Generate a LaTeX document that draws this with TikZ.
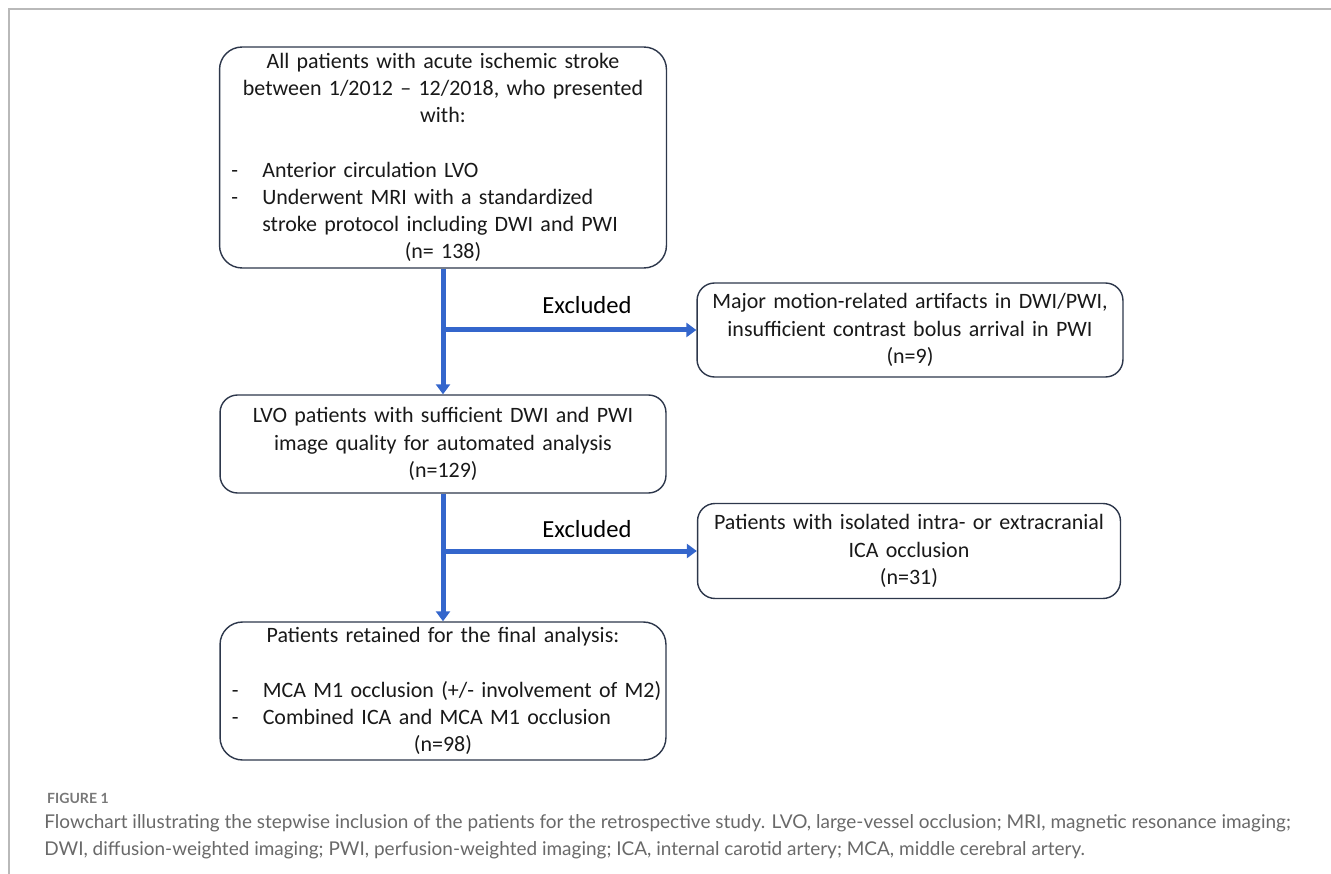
\documentclass[tikz,border=0pt]{standalone}
\usepackage{fontspec}
\setmainfont{Carlito}
\newfontfamily\capfont{Lato}
\usetikzlibrary{arrows.meta}
\definecolor{flowblue}{RGB}{52,102,204}
\definecolor{boxline}{RGB}{45,55,75}
\definecolor{capgray}{RGB}{105,105,105}
\newcommand{\listline}[2]{\makebox[\linewidth][l]{\hspace{1pt}\makebox[0.62cm][l]{#1}#2}}

\begin{document}
\begin{tikzpicture}[x=0.02cm, y=-0.02cm,
  box/.style={draw=boxline, line width=0.8pt, fill=white, text=black!90, align=center, inner xsep=0.2cm, inner ysep=0pt, font=\fontsize{12.5}{15.5}\selectfont},
  flow/.style={flowblue, line width=0.1cm, -{Triangle[width=0.28cm,length=0.2cm]}},
  exlabel/.style={font=\fontsize{14}{17}\selectfont}]
 \useasboundingbox (0,0) rectangle (1331,874);
 \draw[gray!55, line width=0.03cm] (9,874) -- (9,9) -- (1331,9);
 \node[box, rounded corners=0.45cm, text width=8.54cm, minimum height=4.42cm] (all) at (443,157.5) {All patients with acute ischemic stroke\\ between 1/2012 -- 12/2018, who presented\\ with:\\[15.5pt]
  \listline{-}{Anterior circulation LVO}\\ \listline{-}{Underwent MRI with a standardized}\\ \listline{}{stroke protocol including DWI and PWI}\\ (n= 138)};
 \node[box, rounded corners=0.35cm, text width=8.52cm, minimum height=1.96cm] (lvo) at (443,444) {LVO patients with sufficient DWI and PWI\\ image quality for automated analysis\\ (n=129)};
 \node[box, rounded corners=0.45cm, text width=8.52cm, minimum height=2.76cm] (final) at (443,691) {Patients retained for the final analysis:\\[15.5pt]
  \listline{-}{MCA M1 occlusion (+/- involvement of M2)}\\ \listline{-}{Combined ICA and MCA M1 occlusion}\\ (n=98)};
 \node[box, rounded corners=0.35cm, text width=8.12cm, minimum height=1.88cm] (motion) at (910,330) {Major motion-related artifacts in DWI/PWI,\\ insufficient contrast bolus arrival in PWI\\ (n=9)};
 \node[box, rounded corners=0.35cm, text width=8.06cm, minimum height=1.9cm] (ica) at (909,551) {Patients with isolated intra- or extracranial\\ ICA occlusion\\ (n=31)};
 \draw[flow] (all.south) -- (lvo.north);
 \draw[flow] (lvo.south) -- (final.north);
 \draw[flow] (all.south |- motion.west) -- (motion.west);
 \draw[flow] (lvo.south |- ica.west) -- (ica.west);
 \node[exlabel] (ex1) at (587,305) {Excluded};
 \node[exlabel] (ex2) at (587,529) {Excluded};
 \node[anchor=west, text=capgray!90, font=\capfont\bfseries\fontsize{8}{10}\selectfont] (fig) at (41,798) {FIGURE 1};
 \node[anchor=north west, align=left, inner sep=0pt, text=capgray, font=\capfont\fontsize{10.8}{15.3}\selectfont] (cap) at (44,814) {Flowchart illustrating the stepwise inclusion of the patients for the retrospective study. LVO, large-vessel occlusion; MRI, magnetic resonance imaging;\\ DWI, diffusion-weighted imaging; PWI, perfusion-weighted imaging; ICA, internal carotid artery; MCA, middle cerebral artery.};
\end{tikzpicture}
\end{document}
